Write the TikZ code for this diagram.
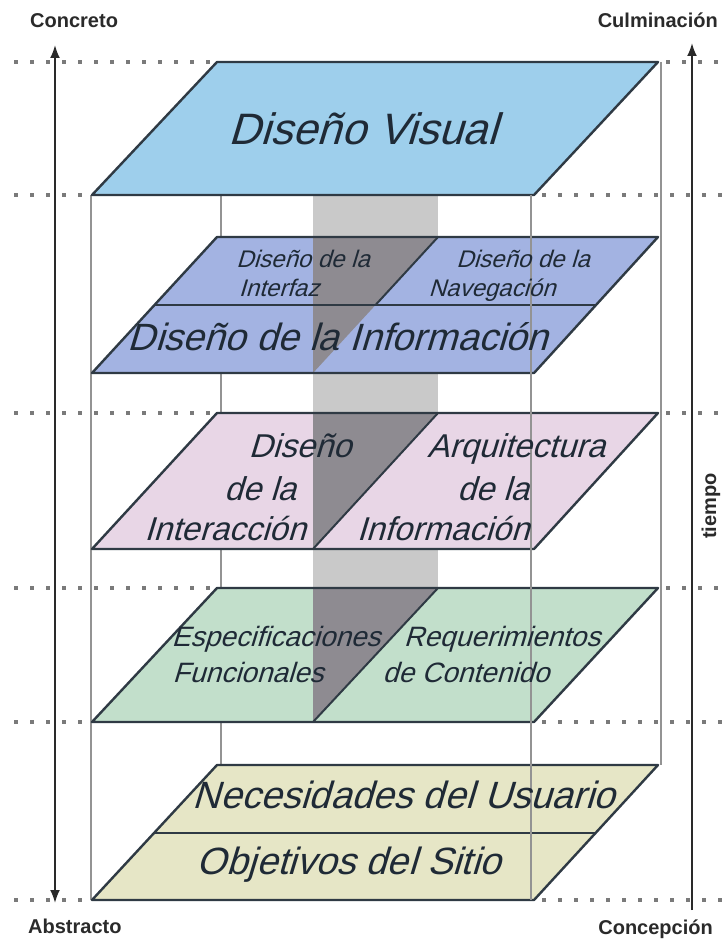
\documentclass[tikz,border=0pt]{standalone}
\usepackage{fontspec}
\setmainfont{Liberation Sans}
\newfontfamily\platefont[FakeSlant=0.3]{Liberation Sans}
\usetikzlibrary{arrows.meta}
\definecolor{visc}{HTML}{9ECFEC}
\definecolor{bluc}{HTML}{A3B3E2}
\definecolor{pinkc}{HTML}{E8D6E6}
\definecolor{greenc}{HTML}{C2DFCB}
\definecolor{beigec}{HTML}{E6E6C6}
\definecolor{bandc}{HTML}{C9C9C9}
\definecolor{darkc}{HTML}{8E8B91}
\definecolor{edgec}{HTML}{2F3A44}
\definecolor{txtc}{HTML}{1F2A36}
\definecolor{dotc}{HTML}{7A7A7A}
\definecolor{axisc}{HTML}{2A2A2A}
\begin{document}
\begin{tikzpicture}[x=1pt,y=-1pt,
  dots/.style={draw=dotc, line width=3.5pt, dash pattern=on 3.5pt off 12.5pt},
  boxedge/.style={draw=gray!85, line width=1.3pt},
  plateline/.style={draw=edgec, line width=2.4pt, line join=round},
  divline/.style={draw=edgec, line width=2pt},
  axisline/.style={draw=axisc, line width=2pt},
  lab/.style={font=\bfseries\fontsize{20}{22}\selectfont, text=axisc, inner sep=0pt},
  ptxt/.style={font=\platefont\fontsize{38}{40}\selectfont, text=txtc, anchor=base, inner sep=0pt},
  ptxtL/.style={font=\platefont\fontsize{44}{46}\selectfont, text=txtc, anchor=base, inner sep=0pt},
  ptxtM/.style={font=\platefont\fontsize{33}{35}\selectfont, text=txtc, anchor=base, inner sep=0pt},
  ptxtS/.style={font=\platefont\fontsize{28}{30}\selectfont, text=txtc, anchor=base, inner sep=0pt},
  ptxtXS/.style={font=\platefont\fontsize{24}{26}\selectfont, text=txtc, anchor=base, inner sep=0pt},
  tip/.tip={Latex[length=13pt,width=10pt]}
]
\useasboundingbox (0,0) rectangle (722,941);
\fill[white] (0,0) rectangle (722,941);

% dotted level lines
\foreach \yy/\a/\b in {62/217/658, 195/92/534, 413/217/658, 588/217/658, 722/92/534, 900/92/534} {
  \draw[dots] (14,\yy) -- (\a,\yy);
  \draw[dots] (\b+8,\yy) -- (722,\yy);
}

% back and left box edges
\draw[boxedge] (221,195) -- (221,765);
\draw[boxedge] (661,62) -- (661,765);
\draw[boxedge] (91,195) -- (91,900);

% light gray band
\fill[bandc] (313,195) rectangle (438,588);

% top plate
\fill[visc] (217,62) -- (658,62) -- (534,195) -- (92,195) -- cycle;
\draw[plateline] (217,62) -- (658,62) -- (534,195) -- (92,195) -- cycle;

% blue plates
\fill[bluc] (217,237) -- (658,237) -- (534,373) -- (92,373) -- cycle;
\fill[darkc] (313,237) -- (438,237) -- (313,373) -- cycle;
\draw[plateline] (217,237) -- (658,237) -- (534,373) -- (92,373) -- cycle;
\draw[plateline] (154.5,305) -- (596,305);
\draw[divline] (438,237) -- (375.5,305);

% pink plate
\fill[pinkc] (217,413) -- (658,413) -- (534,549) -- (92,549) -- cycle;
\fill[darkc] (313,413) -- (438,413) -- (313,549) -- cycle;
\draw[plateline] (217,413) -- (658,413) -- (534,549) -- (92,549) -- cycle;
\draw[divline] (438,413) -- (313,549);

% green plate
\fill[greenc] (217,588) -- (658,588) -- (534,722) -- (92,722) -- cycle;
\fill[darkc] (313,588) -- (438,588) -- (313,722) -- cycle;
\draw[plateline] (217,588) -- (658,588) -- (534,722) -- (92,722) -- cycle;
\draw[divline] (438,588) -- (313,722);

% bottom plates
\fill[beigec] (217,765) -- (658,765) -- (534,900) -- (92,900) -- cycle;
\draw[plateline] (217,765) -- (658,765) -- (534,900) -- (92,900) -- cycle;
\draw[plateline] (154.5,833) -- (596,833);

% front right box edge (over plates)
\draw[boxedge] (531,195) -- (531,900);

% plate texts
\node[ptxtL] (dv) at (363,145) {Diseño Visual};
\node[ptxtXS] (di1) at (303,267) {Diseño de la};
\node[ptxtXS] (di2) at (279,296) {Interfaz};
\node[ptxtXS] (dn1) at (523,267) {Diseño de la};
\node[ptxtXS] (dn2) at (492,296) {Navegación};
\node[ptxt] (dinf) at (338,350) {Diseño de la Información};
\node[ptxtM] (dx1) at (300,457) {Diseño};
\node[ptxtM] (dx2) at (260,500) {de la};
\node[ptxtM] (dx3) at (225,540) {Interacción};
\node[ptxtM] (ai1) at (516,457) {Arquitectura};
\node[ptxtM] (ai2) at (493,500) {de la};
\node[ptxtM] (ai3) at (443,540) {Información};
\node[ptxtS] (ef1) at (276,646) {Especificaciones};
\node[ptxtS] (ef2) at (248,682) {Funcionales};
\node[ptxtS] (rc1) at (502,646) {Requerimientos};
\node[ptxtS] (rc2) at (466,682) {de Contenido};
\node[ptxt] (nu) at (404,808) {Necesidades del Usuario};
\node[ptxt] (os) at (349,874) {Objetivos del Sitio};

% axis labels
\node[lab, anchor=base west] (concreto) at (30,28) {Concreto};
\node[lab, anchor=base east] (culm) at (718,28) {Culminación};
\node[lab, anchor=base west] (abstracto) at (28,933) {Abstracto};
\node[lab, anchor=base east] (concep) at (713,934) {Concepción};
\node[lab, rotate=90] (tiempo) at (711,506) {tiempo};

% axes
\coordinate (lt) at (55,45);
\coordinate (lb) at (55,903);
\coordinate (rt) at (692,43);
\coordinate (rb) at (692,910);
\draw[axisline, tip-tip] (lt) -- (lb);
\draw[axisline, -tip] (rb) -- (rt);
\end{tikzpicture}
\end{document}
